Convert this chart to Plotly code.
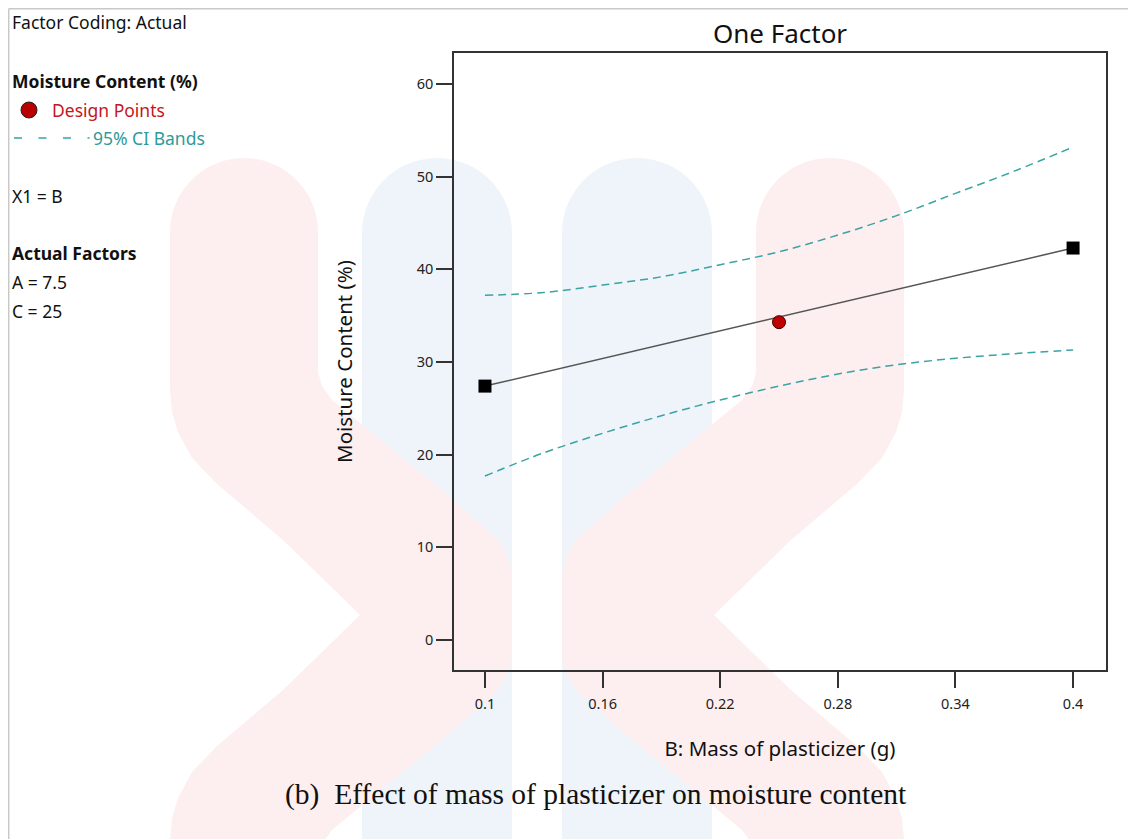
import math
import plotly.graph_objects as go

# ---------------- data ----------------
fit_x = [0.1, 0.4]
fit_y = [27.4, 42.3]

design_x = [0.25]
design_y = [34.3]

ci_x = [0.1, 0.13, 0.16, 0.19, 0.22, 0.25, 0.28, 0.31, 0.34, 0.37, 0.4]
ci_upper = [37.2, 37.5, 38.3, 39.2, 40.5, 41.9, 43.7, 45.8, 48.2, 50.6, 53.2]
ci_lower = [17.7, 20.2, 22.3, 24.2, 25.9, 27.4, 28.7, 29.7, 30.4, 30.9, 31.3]

x_tickvals = [0.1, 0.16, 0.22, 0.28, 0.34, 0.4]
x_ticktext = ["0.1", "0.16", "0.22", "0.28", "0.34", "0.4"]
y_tickvals = [0, 10, 20, 30, 40, 50, 60]

# ---------------- layout geometry (page pixels) ----------------
OFF = 8                      # page offset of the figure (body margin)
FW, FH = 1136 - OFF, 839 - OFF
L, T, R, B = 454, 53, 1106, 670   # plot area in page pixels
W, H = R - L, B - T


def px(x):
    return (x - L) / W


def py(y):
    return (B - y) / H


FONT = "Noto Sans"
TEAL = "#3aa3a3"

fig = go.Figure()

fig.add_trace(go.Scatter(x=ci_x, y=ci_upper, mode="lines",
                         line=dict(color=TEAL, width=1.5, dash="8px,5px", shape="spline"),
                         hoverinfo="skip", showlegend=False))
fig.add_trace(go.Scatter(x=ci_x, y=ci_lower, mode="lines",
                         line=dict(color=TEAL, width=1.5, dash="8px,5px", shape="spline"),
                         hoverinfo="skip", showlegend=False))
fig.add_trace(go.Scatter(x=fit_x, y=fit_y, mode="lines+markers", line=dict(color="#555555", width=1.5),
                         marker=dict(symbol="square", size=13, color="black"), showlegend=False))
fig.add_trace(go.Scatter(x=design_x, y=design_y, mode="markers",
                         marker=dict(symbol="circle", size=13, color="#c00000", line=dict(color="#400000", width=1)),
                         showlegend=False))

# ---------------- watermark (decorative background) ----------------
PINK = "#fdefef"
BLUE = "#eef4f9"


def path_from(points):
    return "M " + " L ".join(f"{px(x):.5f},{py(y):.5f}" for x, y in points) + " Z"


def rounded_bar(x0, x1, top, bottom):
    r = (x1 - x0) / 2
    cx, cy = (x0 + x1) / 2, top + r
    pts = [(x0, bottom)]
    for i in range(31):
        a = math.pi - math.pi * i / 30
        pts.append((cx + r * math.cos(a), cy - r * math.sin(a)))
    pts.append((x1, bottom))
    return pts


def chevron_pts(mirror=False):
    r, cx, cy = 74, 244, 232
    top = []
    for i in range(31):
        a = math.pi - math.pi * i / 30
        top.append((cx + r * math.cos(a), cy - r * math.sin(a)))
    outer_upper = [(318, 372), (322, 386), (332, 400), (450, 497), (496, 538), (508, 556), (512, 575), (512, 615)]
    outer_lower = [(x, 1230 - y) for x, y in reversed(outer_upper[:-1])]
    inner_upper = [(170, 390), (172, 412), (178, 432), (192, 458), (217, 484), (283, 540), (360, 615)]
    inner_lower = [(x, 1230 - y) for x, y in reversed(inner_upper[:-1])]
    pts = top + outer_upper + outer_lower + [(318, 900), (170, 900)] + list(reversed(inner_lower)) + list(reversed(inner_upper))
    if mirror:
        pts = [(1074 - x, y) for x, y in pts]
    return pts


shapes = []
for x0, x1 in [(362, 512), (562, 712)]:
    shapes.append(dict(type="path", xref="paper", yref="paper", layer="below",
                       path=path_from(rounded_bar(x0, x1, 158, 900)), fillcolor=BLUE, line=dict(width=0)))
for m in [False, True]:
    shapes.append(dict(type="path", xref="paper", yref="paper", layer="below",
                       path=path_from(chevron_pts(m)), fillcolor=PINK, line=dict(width=0)))

# page border lines
shapes.append(dict(type="line", xref="paper", yref="paper", x0=px(8.7), x1=px(1140), y0=py(8.7), y1=py(8.7),
                   line=dict(color="#c8c8c8", width=1.5)))
shapes.append(dict(type="line", xref="paper", yref="paper", x0=px(8.7), x1=px(8.7), y0=py(8.7), y1=py(845),
                   line=dict(color="#c8c8c8", width=1.5)))

# legend symbols
shapes.append(dict(type="circle", xref="paper", yref="paper", x0=px(21), x1=px(37), y0=py(118), y1=py(102),
                   fillcolor="#b80000", line=dict(color="#222222", width=1)))
shapes.append(dict(type="line", xref="paper", yref="paper", x0=px(14), x1=px(89.5), y0=py(138), y1=py(138),
                   line=dict(color=TEAL, width=1.3, dash="8px,16.5px")))

annotations = []


def note(text, x, y, size=17.5, color="#111111", family=FONT, xanchor="left"):
    annotations.append(dict(text=text, x=px(x), y=py(y), xref="paper", yref="paper", showarrow=False,
                            xanchor=xanchor, yanchor="middle", font=dict(family=family, size=size, color=color)))


note("Factor Coding: Actual", 10, 22)
note("<b>Moisture Content (%)</b>", 10, 81)
note("Design Points", 50, 110, color="#c4161c")
note("95% CI Bands", 91, 138, color="#2f9a9a")
note("X1 = B", 10, 196)
note("<b>Actual Factors</b>", 10, 253)
note("A = 7.5", 10, 282)
note("C = 25", 10, 311)
note("(b)  Effect of mass of plasticizer on moisture content", 595.5, 794, size=29.5, color="#111111",
     family="Liberation Serif", xanchor="center")

fig.update_layout(
    width=FW, height=FH,
    margin=dict(l=L - OFF, r=FW - (R - OFF), t=T - OFF, b=FH - (B - OFF)),
    paper_bgcolor="white", plot_bgcolor="rgba(0,0,0,0)",
    showlegend=False,
    title=dict(text="One Factor", x=(780 - OFF) / FW, xanchor="center", y=1 - (34 - OFF) / FH, yanchor="middle",
               yref="container", xref="container", font=dict(family=FONT, size=26, color="#111111")),
    shapes=shapes, annotations=annotations,
    font=dict(family=FONT, color="#222222"),
)

fig.update_xaxes(range=[0.0842, 0.4168], tickvals=x_tickvals, ticktext=x_ticktext, ticks="outside", ticklen=16,
                 tickwidth=1.5, tickcolor="#333333", showline=True, linecolor="#333333", linewidth=1.5, mirror=True,
                 showgrid=False, zeroline=False, tickfont=dict(size=14.5, color="#222222"), ticklabelstandoff=4,
                 title=dict(text="B: Mass of plasticizer (g)", standoff=29, font=dict(size=20.5, color="#111111")))
fig.update_yaxes(range=[-3.24, 63.35], tickvals=y_tickvals, ticks="outside", ticklen=16,
                 tickwidth=1.5, tickcolor="#333333", showline=True, linecolor="#333333", linewidth=1.5, mirror=True,
                 showgrid=False, zeroline=False, tickfont=dict(size=14.5, color="#222222"),
                 title=dict(text="Moisture Content (%)", standoff=59, font=dict(size=20.5, color="#111111")))

fig.write_html("out.html")
